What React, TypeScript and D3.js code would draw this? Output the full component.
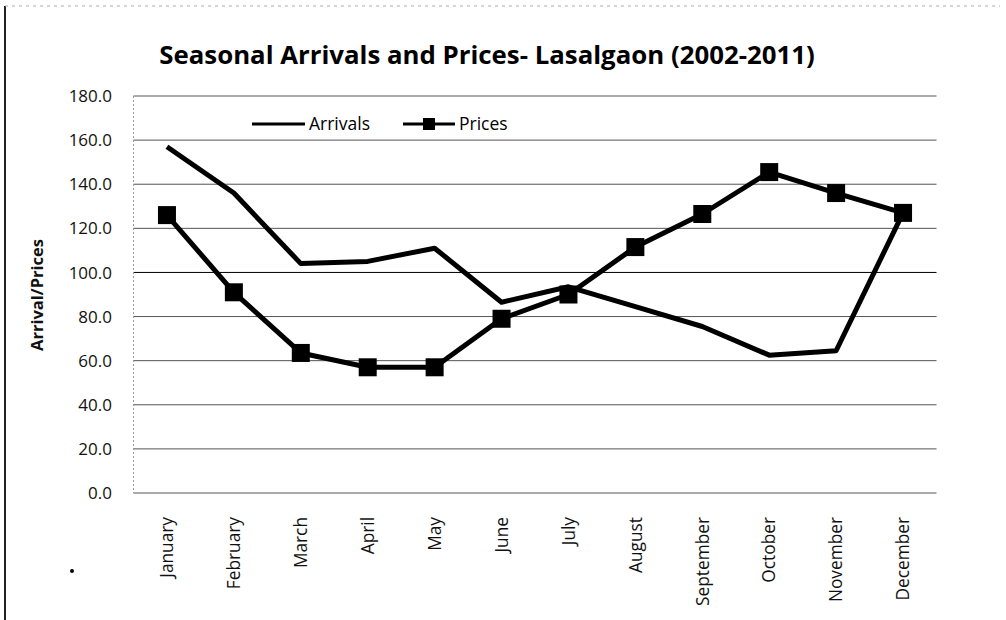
import React from "react";
import * as d3 from "d3";

const months = [
  "January", "February", "March", "April", "May", "June",
  "July", "August", "September", "October", "November", "December",
];
const arrivals = [157, 136, 104, 105, 111, 86.5, 93.5, 84.5, 75.5, 62.5, 64.5, 127];
const prices = [126, 91, 63.5, 57, 57, 79, 90, 111.5, 126.5, 145.5, 136, 127];
const yTicks = [0, 20, 40, 60, 80, 100, 120, 140, 160, 180];
const seriesNames = ["Arrivals", "Prices"];
const titleText = "Seasonal Arrivals and Prices- Lasalgaon (2002-2011)";
const yTitle = "Arrival/Prices";

const W = 1006;
const H = 620;
const FONT = "'Open Sans', 'DejaVu Sans', sans-serif";

export default function App() {
  const x = d3.scaleBand<string>().domain(months).range([133.5, 936.5]).padding(0);
  const y = d3.scaleLinear().domain([0, 180]).range([493, 96]);
  const cx = (m: string) => (x(m) as number) + x.bandwidth() / 2;

  const line = d3
    .line<number>()
    .x((_, i) => cx(months[i]))
    .y((d) => y(d));

  const fmt = d3.format(".1f");
  const msize = 18;

  return (
    <svg
      width={W}
      height={H}
      viewBox={`0 0 ${W} ${H}`}
      style={{ position: "absolute", left: 0, top: 0, background: "#fff" }}
      fontFamily={FONT}
    >
      <rect x={0} y={0} width={W} height={H} fill="#fff" />
      {/* chart frame (left edge visible, top faint) */}
      <line x1={5} x2={5} y1={6} y2={620} stroke="#222" strokeWidth={2} />
      <line x1={5} x2={1000} y1={6} y2={6} stroke="#aaa" strokeWidth={1} strokeDasharray="3 4" />

      {/* title */}
      <text
        x={487}
        y={64}
        textAnchor="middle"
        fontSize={25.8}
        fontWeight="bold"
        fill="#000"
      >
        {titleText}
      </text>

      {/* gridlines */}
      {yTicks.map((t) => (
        <line
          key={"g" + t}
          x1={133.5}
          x2={936.5}
          y1={y(t)}
          y2={y(t)}
          stroke={t === 100 ? "#000" : "#555"}
          strokeWidth={1}
        />
      ))}
      {/* left plot edge */}
      <line x1={133.5} x2={133.5} y1={y(180)} y2={y(0)} stroke="#999" strokeWidth={1} strokeDasharray="2 2" />

      {/* y tick labels */}
      {yTicks.map((t) => (
        <text
          key={"t" + t}
          x={112}
          y={y(t)}
          dy="0.36em"
          textAnchor="end"
          fontSize={17}
          fill="#111"
        >
          {fmt(t)}
        </text>
      ))}

      {/* y title */}
      <text
        transform="translate(37,295) rotate(-90)"
        textAnchor="middle"
        dy="0.36em"
        fontSize={16.5}
        fontWeight="bold"
        fill="#111"
      >
        {yTitle}
      </text>

      {/* x labels */}
      {months.map((m) => (
        <text
          key={"x" + m}
          transform={`translate(${cx(m)},517) rotate(-90)`}
          textAnchor="end"
          dy="0.36em"
          fontSize={17.3}
          fill="#111"
        >
          {m}
        </text>
      ))}

      {/* arrivals line */}
      <path d={line(arrivals) as string} fill="none" stroke="#000" strokeWidth={5} strokeLinejoin="round" />
      {/* prices line */}
      <path d={line(prices) as string} fill="none" stroke="#000" strokeWidth={5} strokeLinejoin="round" />
      {prices.map((v, i) => (
        <rect
          key={"m" + i}
          x={cx(months[i]) - msize / 2}
          y={y(v) - msize / 2}
          width={msize}
          height={msize}
          fill="#000"
        />
      ))}

      {/* legend */}
      <g>
        <line x1={252} x2={305} y1={124} y2={124} stroke="#000" strokeWidth={3} />
        <text x={309} y={124} dy="0.36em" fontSize={17.5} fill="#000">
          {seriesNames[0]}
        </text>
        <line x1={403} x2={455} y1={124} y2={124} stroke="#000" strokeWidth={3} />
        <rect x={429 - 6} y={124 - 6} width={12} height={12} fill="#000" />
        <text x={459} y={124} dy="0.36em" fontSize={17.5} fill="#000">
          {seriesNames[1]}
        </text>
      </g>

      {/* scan specks */}
      <circle cx={72} cy={571} r={2} fill="#000" />
    </svg>
  );
}
